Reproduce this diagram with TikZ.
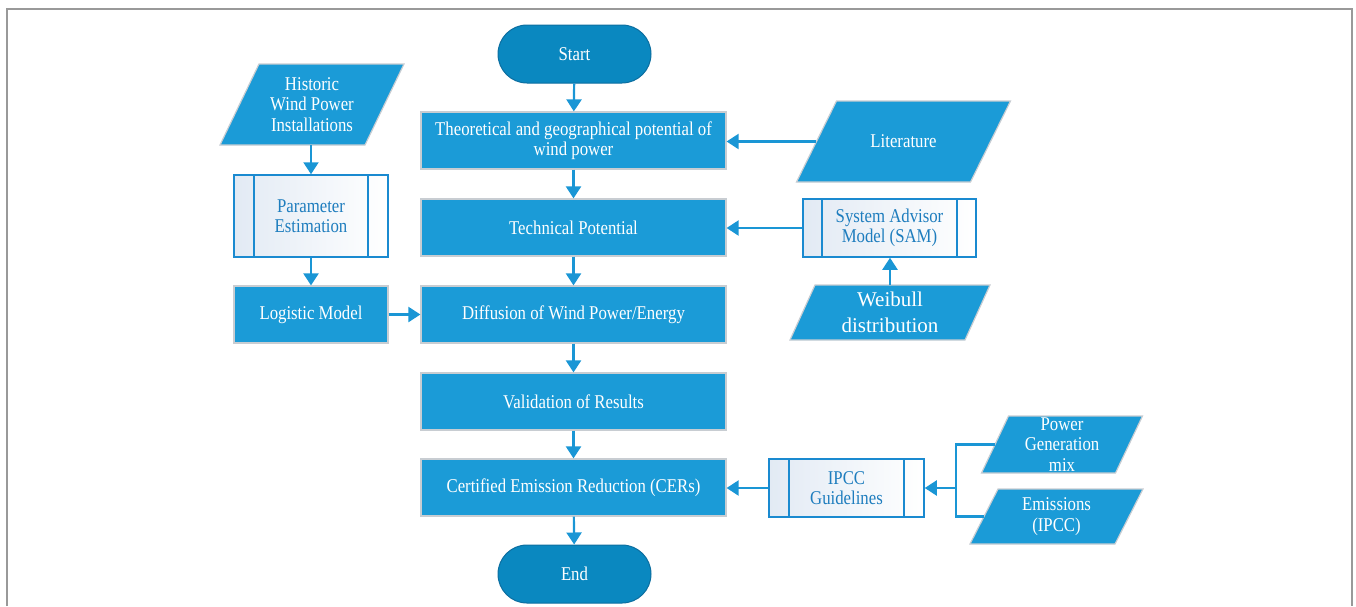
\documentclass[tikz,border=0pt]{standalone}
\usepackage{fontspec}
\setmainfont{Liberation Serif}[FakeStretch=0.86]
\newfontfamily\wfont{Liberation Serif}
\usetikzlibrary{arrows.meta}
\definecolor{boxblue}{RGB}{27,155,215}
\definecolor{termblue}{RGB}{10,136,192}
\definecolor{termedge}{RGB}{12,110,160}
\definecolor{arrblue}{RGB}{26,150,213}
\definecolor{subedge}{RGB}{26,138,208}
\definecolor{subtext}{RGB}{30,125,190}
\definecolor{subleft}{RGB}{226,234,244}
\definecolor{boxedge}{RGB}{200,205,210}
\tikzset{
  txt/.style={font=\fontsize{19.5}{20.5}\selectfont, align=center, inner sep=0pt},
  procbox/.style={txt, rectangle, fill=boxblue, draw=boxedge, line width=1.2pt, text=white},
  termbox/.style={txt, rectangle, rounded corners=29pt, fill=termblue, draw=termedge, line width=1pt, text=white, minimum width=153pt, minimum height=58pt},
  subbox/.style={txt, rectangle, left color=subleft, right color=white, draw=subedge, line width=1.5pt, text=subtext,
    path picture={\draw[subedge, line width=1.5pt]
      ([xshift=#1]path picture bounding box.north west) -- ([xshift=#1]path picture bounding box.south west)
      ([xshift=-#1]path picture bounding box.north east) -- ([xshift=-#1]path picture bounding box.south east);}},
  parafill/.style={fill=boxblue, draw=boxedge, line width=1.2pt},
  paratext/.style={txt, rectangle, text=white},
  arr/.style={draw=arrblue, line width=2.2pt, -{Triangle[length=12pt,width=15pt]}},
  conn/.style={draw=arrblue, line width=2.2pt},
  frame/.style={draw=gray!80, line width=1.5pt}
}
% name, cx, cy, side width, height, slant, text, options
\newcommand\paranode[8]{%
  \path[parafill] (#2-#4/2-#6/2, #3+#5/2) -- (#2+#4/2-#6/2, #3+#5/2) -- (#2+#4/2+#6/2, #3-#5/2) -- (#2-#4/2+#6/2, #3-#5/2) -- cycle;
  \node[paratext, minimum width=#4 pt, minimum height=#5 pt, #8] (#1) at (#2,#3) {#7};
}
\begin{document}
\begin{tikzpicture}[x=1pt, y=-1pt]
\useasboundingbox (0,0) rectangle (1356,606);
\draw[frame] (7,606) -- (7,9) -- (1352,9) -- (1352,606);

% main column
\node[termbox] (start) at (574.5,54) {Start};
\node[procbox, minimum width=305pt, minimum height=57pt] (theo) at (573.5,140.5) {Theoretical and geographical potential of\\wind power};
\node[procbox, minimum width=305pt, minimum height=57pt] (tech) at (573.5,227.5) {Technical Potential};
\node[procbox, minimum width=305pt, minimum height=57pt] (diff) at (573.5,314.5) {Diffusion of Wind Power/Energy};
\node[procbox, minimum width=305pt, minimum height=57pt] (valid) at (573.5,401.5) {Validation of Results};
\node[procbox, minimum width=305pt, minimum height=57pt] (cer) at (573.5,487.5) {Certified Emission Reduction (CERs)};
\node[termbox] (end) at (574.5,574) {End};

% left column
\paranode{hist}{312}{104.5}{145}{81}{39}{Historic\\Wind Power\\Installations}{}
\node[subbox=20pt, minimum width=154pt, minimum height=82pt] (param) at (311,216) {Parameter\\Estimation};
\node[procbox, minimum width=154pt, minimum height=57pt] (logi) at (311,314.5) {Logistic Model};

% right column
\paranode{lit}{903.5}{141.5}{174}{81}{40}{Literature}{}
\node[subbox=19pt, minimum width=173pt, minimum height=58pt] (sam) at (889.5,228) {System Advisor\\Model (SAM)};
\paranode{wei}{890}{312.5}{175}{55}{25}{Weibull\\distribution}{font=\wfont\fontsize{21}{26.5}\selectfont}
\node[subbox=20pt, minimum width=155pt, minimum height=58pt] (ipcc) at (846.5,488) {IPCC\\Guidelines};
\paranode{pow}{1062}{444.5}{134}{57}{27}{Power\\Generation\\mix}{}
\paranode{emis}{1056.5}{516.5}{145}{55}{28}{Emissions\\(IPCC)}{}
\coordinate (junc) at (956,488);

% connectors
\draw[arr] (start) -- (theo);
\draw[arr] (theo) -- (tech);
\draw[arr] (tech) -- (diff);
\draw[arr] (diff) -- (valid);
\draw[arr] (valid) -- (cer);
\draw[arr] (cer) -- (end);
\draw[arr] (hist.south -| param.north) -- (param.north);
\draw[arr] (param) -- (logi);
\draw[arr] (logi.east) -- (logi.east -| diff.west);
\draw[arr] (lit.west) -- (lit.west -| theo.east);
\draw[arr] (sam.west) -- (sam.west -| tech.east);
\draw[arr] (wei.north) -- (wei.north |- sam.south);
\draw[arr] (ipcc.west) -- (ipcc.west -| cer.east);
\draw[conn] (pow.west) -| (junc) |- (emis.west);
\draw[arr] (junc) -- (ipcc.east);
\end{tikzpicture}
\end{document}
